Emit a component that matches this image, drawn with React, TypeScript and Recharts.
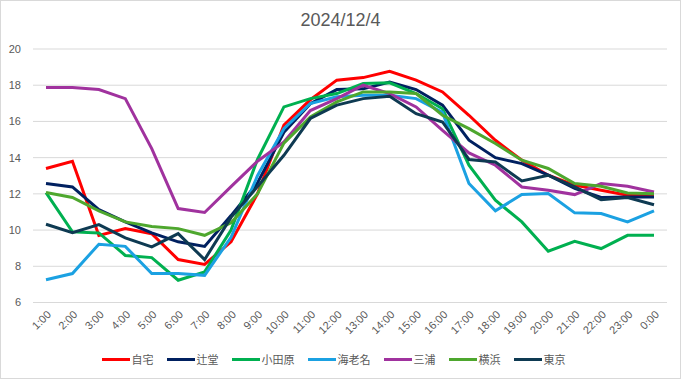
import React from "react";
import { LineChart, Line, XAxis, YAxis, CartesianGrid, Legend } from "recharts";

const HOURS = [
  "1:00", "2:00", "3:00", "4:00", "5:00", "6:00", "7:00", "8:00",
  "9:00", "10:00", "11:00", "12:00", "13:00", "14:00", "15:00", "16:00",
  "17:00", "18:00", "19:00", "20:00", "21:00", "22:00", "23:00", "0:00",
];

const JITAKU = [13.4, 13.8, 9.7, 10.08, 9.8, 8.37, 8.1, 9.35, 12.0, 15.8, 17.2, 18.28, 18.42, 18.77, 18.28, 17.63, 16.34, 14.96, 13.86, 13.03, 12.48, 12.2, 11.92, 11.92];
const TSUJIDO = [12.57, 12.38, 11.13, 10.45, 9.84, 9.35, 9.1, 10.8, 12.6, 15.4, 16.98, 17.76, 17.8, 18.18, 17.76, 16.9, 14.96, 14.0, 13.67, 13.03, 12.3, 11.8, 11.83, 11.83];
const ODAWARA = [12.07, 9.9, 9.84, 8.6, 8.48, 7.23, 7.69, 10.0, 13.9, 16.8, 17.26, 17.54, 18.09, 18.13, 17.54, 16.7, 13.58, 11.65, 10.45, 8.83, 9.38, 8.98, 9.71, 9.71];
const EBINA = [7.26, 7.6, 9.22, 9.1, 7.6, 7.6, 7.5, 9.6, 13.0, 15.6, 16.99, 17.36, 17.45, 17.45, 17.26, 16.5, 12.57, 11.06, 11.96, 12.02, 10.95, 10.91, 10.45, 11.06];
const MIURA = [17.87, 17.87, 17.76, 17.26, 14.5, 11.19, 10.97, 12.4, 13.8, 14.87, 16.6, 17.26, 18.0, 17.54, 16.8, 15.5, 14.26, 13.58, 12.38, 12.2, 11.96, 12.57, 12.42, 12.1];
const YOKOHAMA = [12.07, 11.8, 11.06, 10.45, 10.2, 10.08, 9.71, 10.4, 12.0, 14.8, 16.25, 17.08, 17.63, 17.63, 17.54, 16.34, 15.6, 14.78, 13.86, 13.4, 12.57, 12.42, 12.05, 12.0];
const TOKYO = [10.32, 9.86, 10.3, 9.57, 9.07, 9.8, 8.37, 10.7, 12.4, 14.13, 16.16, 16.9, 17.26, 17.39, 16.43, 15.97, 13.9, 13.76, 12.71, 13.03, 12.38, 11.68, 11.8, 11.4];

const Y_TICKS = [6, 8, 10, 12, 14, 16, 18, 20];

const SERIES = [
  { name: "自宅", values: JITAKU, color: "#FF0000" },
  { name: "辻堂", values: TSUJIDO, color: "#002060" },
  { name: "小田原", values: ODAWARA, color: "#00B050" },
  { name: "海老名", values: EBINA, color: "#1BA1E2" },
  { name: "三浦", values: MIURA, color: "#A0329E" },
  { name: "横浜", values: YOKOHAMA, color: "#4EA72E" },
  { name: "東京", values: TOKYO, color: "#0E3A52" },
];

const data = HOURS.map((hour, i) => {
  const row: Record<string, number | string> = { hour };
  SERIES.forEach((s) => {
    row[s.name] = s.values[i];
  });
  return row;
});

const TEXT = "#595959";
const FONT = "'Liberation Sans', Arial, sans-serif";

function HourTick({ x, y, payload }: any) {
  const tx = x + 3;
  const ty = y + 2;
  return (
    <text
      x={tx}
      y={ty}
      dy="0.35em"
      textAnchor="end"
      fontSize={11}
      fontFamily={FONT}
      fill={TEXT}
      transform={`rotate(-45, ${tx}, ${ty})`}>
      {payload.value}
    </text>
  );
}

// legend keeps the series order (recharts sorts its payload by name)
function LegendBox() {
  return (
    <div
      style={{
        display: "flex",
        justifyContent: "center",
        alignItems: "center",
        height: 20,
        fontFamily: "'Noto Sans CJK JP', sans-serif",
        fontSize: 11,
        color: TEXT,
      }}>
      {SERIES.map((item, i) => (
        <div
          key={item.name}
          style={{
            display: "flex",
            alignItems: "center",
            marginRight: i === SERIES.length - 1 ? 0 : 13,
          }}>
          <div
            style={{
              width: 28,
              height: 3,
              background: item.color,
              marginRight: 2,
            }}
          />
          <span style={{ lineHeight: "20px" }}>{item.name}</span>
        </div>
      ))}
    </div>
  );
}

export default function App() {
  return (
    <div style={{ position: "absolute", left: 0, top: 0, width: 681, height: 379, background: "#fff" }}>
      <div
        style={{
          position: "absolute",
          top: 10,
          left: 0,
          width: 681,
          textAlign: "center",
          fontFamily: FONT,
          fontSize: 18,
          color: TEXT,
        }}>
        2024/12/4
      </div>
      <LineChart
        width={681}
        height={379}
        data={data}
        margin={{ top: 49, right: 14, left: 0, bottom: 0 }}>
        <CartesianGrid vertical={false} stroke="#D9D9D9" strokeWidth={1} />
        <XAxis
          dataKey="hour"
          interval={0}
          tickLine={false}
          axisLine={{ stroke: "#D9D9D9" }}
          padding={{ left: 13, right: 13 }}
          height={46.5}
          tick={<HourTick />}
        />
        <YAxis
          width={33}
          domain={[6, 20]}
          ticks={Y_TICKS}
          axisLine={false}
          tickLine={false}
          tickMargin={6}
          tick={{ fontSize: 11, fill: TEXT, fontFamily: FONT }}
        />
        <Legend verticalAlign="bottom" height={30} content={<LegendBox />} />
        {SERIES.map((s) => (
          <Line
            key={s.name}
            type="linear"
            dataKey={s.name}
            stroke={s.color}
            strokeWidth={3}
            dot={false}
            isAnimationActive={false}
          />
        ))}
      </LineChart>
      <div
        style={{
          position: "absolute",
          left: 0,
          top: 0,
          width: 681,
          height: 379,
          boxSizing: "border-box",
          border: "1px solid #D9D9D9",
          pointerEvents: "none",
        }}
      />
    </div>
  );
}
